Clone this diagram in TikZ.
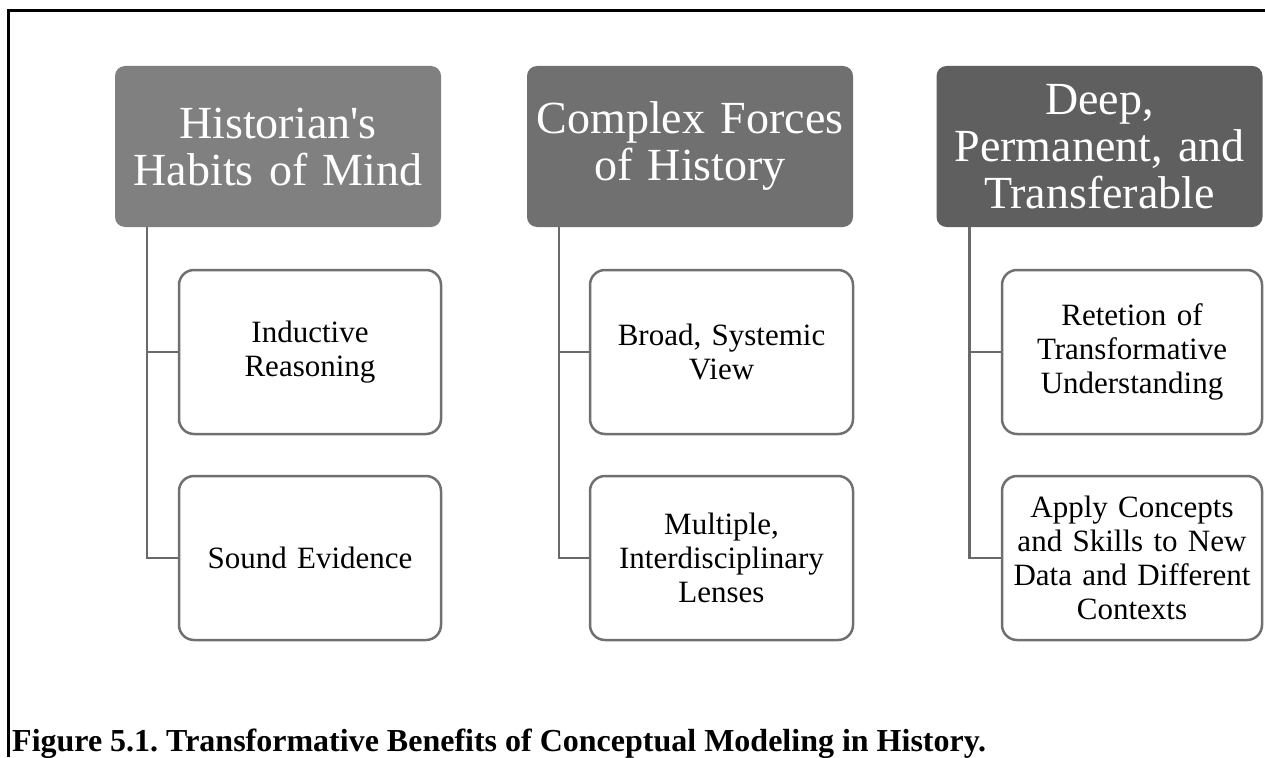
\documentclass[tikz,border=0pt]{standalone}
\usepackage{fontspec}
\setmainfont{Liberation Serif}
\frenchspacing
\definecolor{hdA}{RGB}{128,128,128}
\definecolor{hdB}{RGB}{112,112,112}
\definecolor{hdC}{RGB}{95,95,95}
\definecolor{edgegray}{RGB}{112,112,112}
\definecolor{linkgray}{RGB}{105,105,105}
\begin{document}
\begin{tikzpicture}[x=1pt,y=-1pt,
  header/.style={rounded corners=10pt, inner sep=0pt, minimum height=161pt,
    text=white, align=center, font=\fontsize{46}{47}\selectfont},
  child/.style={draw=edgegray, line width=2.5pt, fill=white, rounded corners=15pt,
    inner sep=0pt, minimum width=262pt, minimum height=164pt, align=center,
    text width=250pt, font=\fontsize{31}{34}\selectfont},
  link/.style={draw=linkgray, line width=2.5pt},
  frameline/.style={draw=black, line width=3pt}]
\useasboundingbox (0,0) rectangle (1265,757);
% frame
\coordinate (ftl) at (8,11);
\coordinate (ftr) at (1265,11);
\coordinate (fbl) at (8,757);
\draw[frameline] (fbl) -- (ftl) -- (ftr);
% headers
\node[header, fill=hdA, minimum width=326pt, text width=320pt] (h1) at (278,146.5) {Historian\textquotesingle s\\Habits of Mind};
\node[header, fill=hdB, minimum width=326pt, text width=320pt] (h2) at (690,146.5) {Complex Forces\\of History};
\node[header, fill=hdC, minimum width=326pt, text width=320pt] (h3) at (1099.5,146.5) {Deep,\\Permanent, and\\Transferable};
% connectors
\draw[link] ([xshift=32pt]h1.south west) |- (310,558) coordinate (l12);
\draw[link] ([xshift=32pt]h2.south west) |- (721.5,558) coordinate (l22);
\draw[link] ([xshift=33pt]h3.south west) |- (1132,558) coordinate (l32);
\draw[link] ([xshift=32pt]h1.south west) |- (310,352) coordinate (l11);
\draw[link] ([xshift=32pt]h2.south west) |- (721.5,352) coordinate (l21);
\draw[link] ([xshift=33pt]h3.south west) |- (1132,352) coordinate (l31);
% children
\node[child] (c11) at (l11) {Inductive\\Reasoning};
\node[child] (c12) at (l12) {Sound Evidence};
\node[child, minimum width=263pt] (c21) at (l21) {Broad, Systemic\\View};
\node[child, minimum width=263pt] (c22) at (l22) {Multiple,\\Interdisciplinary\\Lenses};
\node[child, minimum width=260pt] (c31) at (l31) {Retetion of\\Transformative\\Understanding};
\node[child, minimum width=260pt] (c32) at (l32) {Apply Concepts\\and Skills to New\\Data and Different\\Contexts};
% caption
\node[anchor=base west, inner sep=0pt, font=\fontsize{32}{36}\selectfont\bfseries] (cap) at (12,751) {Figure 5.1. Transformative Benefits of Conceptual Modeling in History.};
\end{tikzpicture}
\end{document}
